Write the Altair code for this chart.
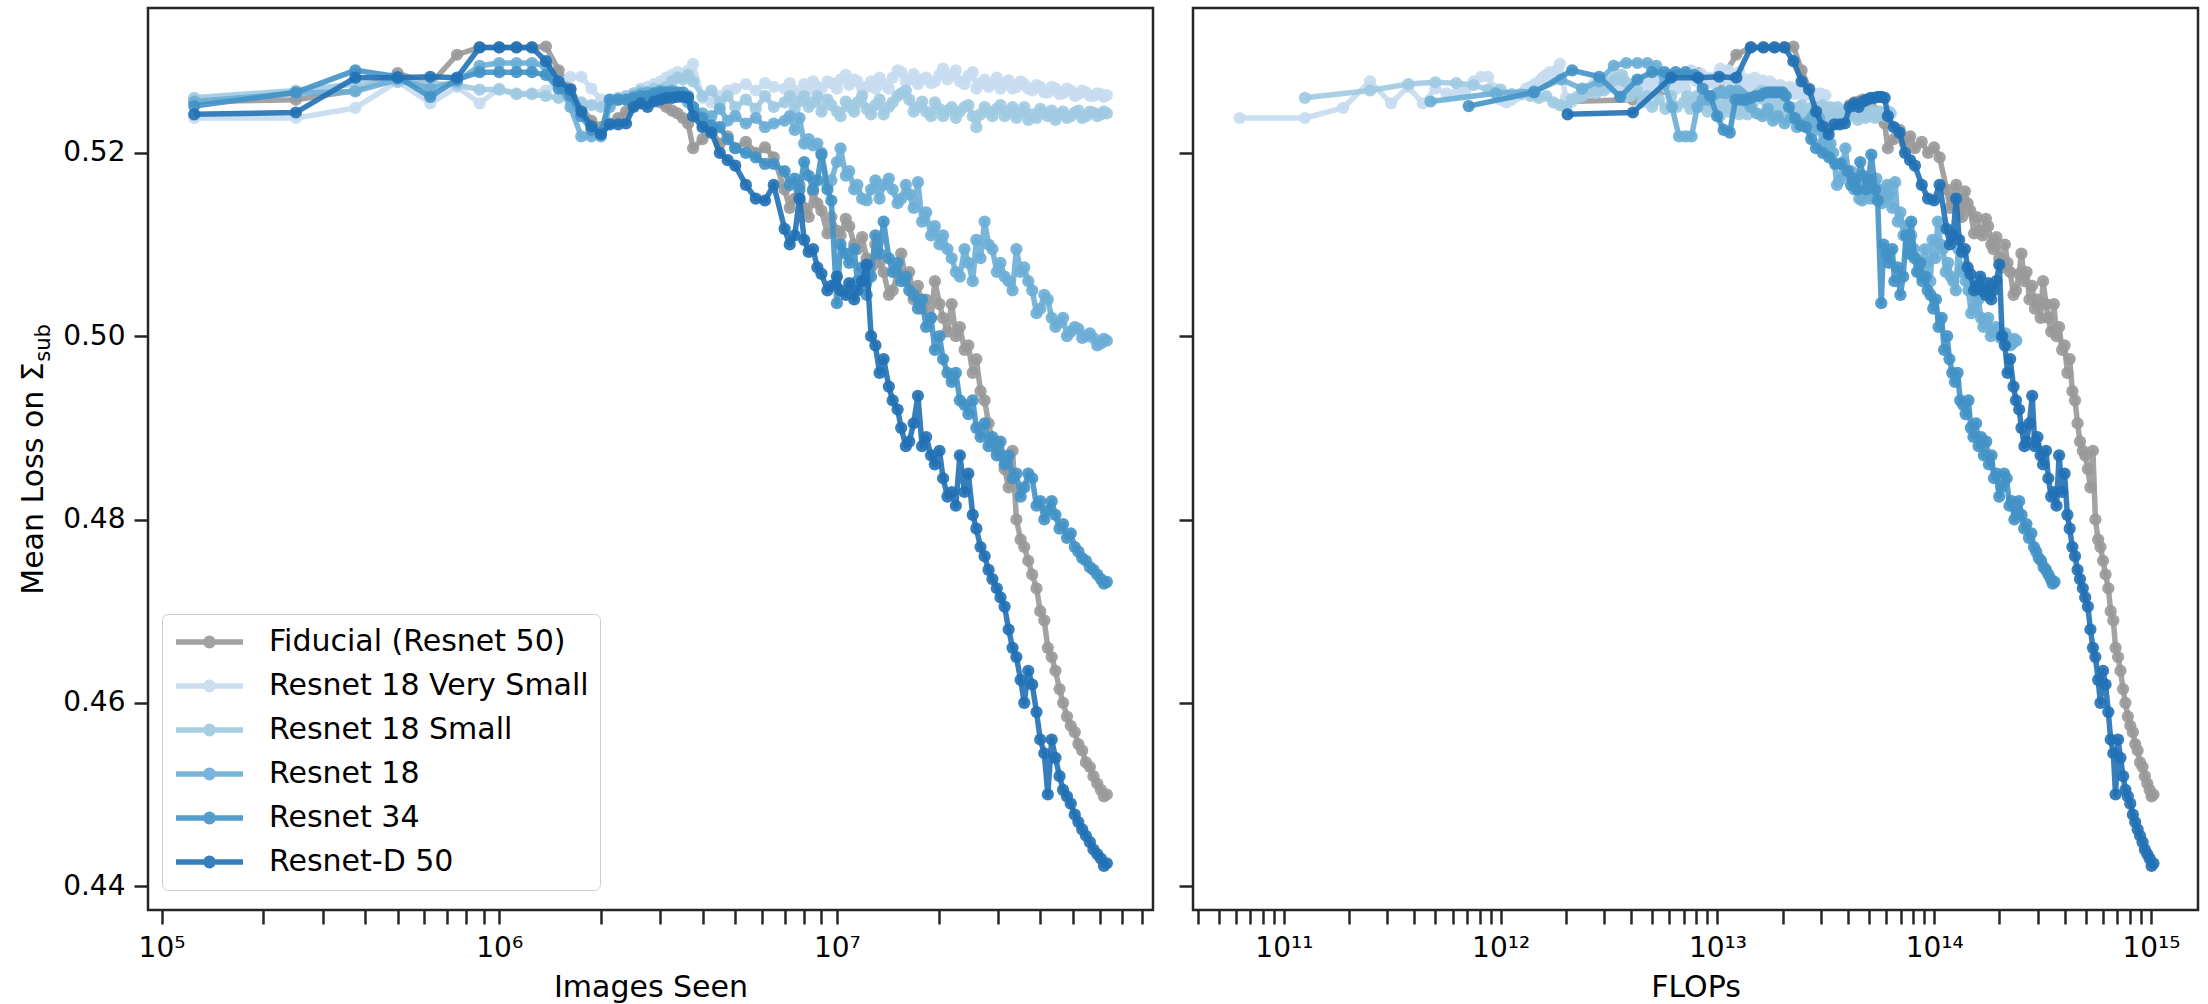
import altair as alt
import pandas as pd

# ---------------- data ----------------
series_names = ["Fiducial (Resnet 50)", "Resnet 18 Very Small", "Resnet 18 Small",
                "Resnet 18", "Resnet 34", "Resnet-D 50"]
series_colors = ["#999999", "#c6dbef", "#9ecae1", "#6baed6", "#4292c6", "#2171b5"]
# FLOPs per image seen, read from the horizontal shift between the two panels
flops_per_image = [1.63e7, 5.0e5, 1.0e6, 3.8e6, 5.7e6, 1.63e7]
images_per_eval = 125000

eval_steps = [1, 2, 3, 4, 5, 6, 7, 8, 9, 10,
              11, 12, 13, 14, 15, 16, 17, 18, 19, 20,
              21, 22, 23, 24, 25, 26, 27, 28, 29, 30,
              32, 34, 36, 38, 40, 43, 46, 49, 52,
              56, 58, 60, 62, 64, 66, 68, 70, 72,
              75, 77, 80, 82, 85, 87, 90, 92, 95, 98,
              101, 104, 107, 110, 114, 117, 121, 124, 128, 131,
              135, 139, 143, 147, 152, 156, 161, 165, 170, 175,
              180, 185, 191, 196, 202, 207, 213, 219, 225, 231,
              238, 244, 251, 258, 265, 272, 280, 287, 295, 303,
              312, 320, 329, 337, 346, 355, 365, 374, 384, 394,
              405, 415, 426, 437, 449, 460, 472, 484, 494, 504]

loss_fiducial = [.5256, .5258, .5268, .5287, .5275, .5307, .5315, .5315, .5315, .5315,
                 .5316, .5290, .5270, .5250, .5235, .5228, .5232, .5238, .5245, .5252,
                 .5255, .5256, .5258, .5255, .5250, .5246, .5243, .5238, .5232, .5205,
                 .5215, .5225, .5210, .5218, .5205, .5212, .5200, .5206, .5195,
                 .5160, .5140, .5150, .5165, .5140, .5130, .5158, .5145, .5137,
                 .5112, .5130, .5115, .5110, .5128, .5120, .5100, .5095, .5108, .5085,
                 .5075, .5100, .5080, .5070, .5045, .5050, .5068, .5090, .5060, .5070,
                 .5040, .5055, .5030, .5040, .5020, .5060, .5035, .5020, .5005, .5035,
                 .5000, .5010, .4985, .4990, .4960, .4975, .4940, .4930, .4905, .4885,
                 .4875, .4870, .4855, .4835, .4875, .4800, .4778, .4770, .4755, .4740,
                 .4725, .4700, .4690, .4660, .4650, .4635, .4615, .4600, .4585, .4575,
                 .4568, .4555, .4548, .4535, .4530, .4520, .4512, .4505, .4498, .4500]

loss_very_small = [.5238, .5238, .5249, .5278, .5254, .5272, .5254, .5270, .5265, .5265,
                   .5268, .5278, .5283, .5283, .5270, .5258, .5255, .5258, .5262, .5265,
                   .5270, .5272, .5275, .5278, .5282, .5285, .5288, .5286, .5290, .5297,
                   .5260, .5255, .5262, .5268, .5270, .5275, .5268, .5276, .5272,
                   .5270, .5276, .5268, .5262, .5275, .5270, .5278, .5272, .5270,
                   .5278, .5276, .5270, .5280, .5285, .5274, .5280, .5278, .5270, .5272,
                   .5278, .5270, .5282, .5275, .5270, .5282, .5290, .5288, .5278, .5280,
                   .5286, .5275, .5280, .5282, .5276, .5278, .5285, .5292, .5280, .5285,
                   .5290, .5278, .5275, .5284, .5288, .5270, .5276, .5280, .5272, .5276,
                   .5282, .5270, .5276, .5279, .5270, .5272, .5278, .5275, .5270, .5268,
                   .5274, .5272, .5266, .5266, .5272, .5270, .5264, .5265, .5270, .5268,
                   .5262, .5264, .5268, .5266, .5262, .5262, .5265, .5264, .5261, .5263]

loss_small = [.5260, .5268, .5275, .5277, .5276, .5274, .5269, .5269, .5264, .5264,
              .5262, .5260, .5262, .5255, .5252, .5250, .5258, .5260, .5262, .5265,
              .5268, .5265, .5270, .5268, .5272, .5278, .5282, .5280, .5285, .5278,
              .5262, .5268, .5255, .5262, .5250, .5258, .5248, .5262, .5250,
              .5255, .5262, .5248, .5256, .5262, .5250, .5255, .5262, .5245,
              .5258, .5252, .5245, .5240, .5256, .5250, .5245, .5255, .5262, .5248,
              .5242, .5252, .5258, .5242, .5250, .5255, .5262, .5265, .5268, .5258,
              .5245, .5250, .5256, .5245, .5240, .5255, .5248, .5240, .5246, .5250,
              .5238, .5245, .5250, .5252, .5240, .5228, .5242, .5250, .5245, .5240,
              .5248, .5252, .5240, .5245, .5250, .5238, .5244, .5250, .5236, .5242,
              .5238, .5248, .5244, .5240, .5246, .5236, .5242, .5245, .5238, .5240,
              .5244, .5246, .5238, .5240, .5245, .5244, .5240, .5242, .5245, .5243]

loss_resnet18 = [.5256, .5265, .5267, .5280, .5270, .5278, .5295, .5298, .5298, .5298,
                 .5295, .5275, .5250, .5218, .5218, .5218, .5250, .5258, .5258, .5262,
                 .5265, .5266, .5265, .5268, .5266, .5268, .5265, .5262, .5255, .5250,
                 .5243, .5240, .5248, .5235, .5240, .5232, .5238, .5228, .5232,
                 .5235, .5240, .5225, .5238, .5210, .5215, .5208, .5210, .5200,
                 .5165, .5170, .5190, .5205, .5175, .5180, .5160, .5165, .5150, .5148,
                 .5160, .5170, .5150, .5165, .5172, .5160, .5145, .5150, .5165, .5155,
                 .5140, .5168, .5125, .5135, .5110, .5120, .5100, .5110, .5095, .5085,
                 .5070, .5065, .5095, .5080, .5060, .5105, .5085, .5125, .5100, .5095,
                 .5070, .5080, .5065, .5060, .5050, .5095, .5070, .5075, .5060, .5050,
                 .5025, .5030, .5045, .5040, .5020, .5010, .5015, .5020, .5000, .5005,
                 .5010, .5008, .4998, .5000, .5003, .4998, .4990, .4992, .4997, .4995]

loss_resnet34 = [.5251, .5266, .5290, .5283, .5261, .5280, .5288, .5288, .5288, .5288,
                 .5285, .5270, .5262, .5240, .5225, .5222, .5258, .5258, .5258, .5260,
                 .5262, .5262, .5265, .5266, .5266, .5266, .5266, .5266, .5262, .5250,
                 .5238, .5230, .5228, .5215, .5205, .5200, .5195, .5188, .5188,
                 .5180, .5165, .5172, .5160, .5190, .5175, .5160, .5170, .5198,
                 .5160, .5148, .5036, .5100, .5090, .5080, .5095, .5060, .5075, .5045,
                 .5065, .5110, .5090, .5125, .5085, .5070, .5080, .5060, .5065, .5050,
                 .5045, .5030, .5040, .5010, .5020, .4985, .5000, .4975, .4960, .4950,
                 .4960, .4930, .4925, .4915, .4930, .4900, .4890, .4905, .4880, .4890,
                 .4870, .4885, .4860, .4870, .4845, .4850, .4825, .4835, .4850, .4845,
                 .4815, .4820, .4800, .4810, .4820, .4805, .4790, .4795, .4780, .4785,
                 .4770, .4765, .4758, .4755, .4748, .4745, .4740, .4735, .4730, .4732]

loss_resnetd50 = [.5242, .5244, .5282, .5282, .5283, .5282, .5315, .5315, .5315, .5315,
                  .5300, .5278, .5269, .5245, .5229, .5220, .5231, .5231, .5232, .5250,
                  .5254, .5250, .5256, .5258, .5260, .5260, .5261, .5261, .5260, .5240,
                  .5228, .5222, .5200, .5192, .5186, .5165, .5150, .5148, .5165,
                  .5117, .5100, .5110, .5150, .5105, .5092, .5095, .5075, .5068,
                  .5050, .5055, .5065, .5050, .5045, .5058, .5040, .5050, .5060, .5078,
                  .5000, .4990, .4960, .4975, .4945, .4930, .4920, .4900, .4880, .4885,
                  .4905, .4935, .4880, .4890, .4870, .4860, .4875, .4845, .4825, .4830,
                  .4815, .4870, .4830, .4850, .4805, .4790, .4770, .4760, .4745, .4735,
                  .4725, .4715, .4705, .4680, .4660, .4650, .4625, .4600, .4635, .4620,
                  .4590, .4560, .4545, .4500, .4560, .4540, .4520, .4505, .4498, .4490,
                  .4478, .4470, .4462, .4455, .4448, .4440, .4435, .4430, .4422, .4425]

loss_by_series = [loss_fiducial, loss_very_small, loss_small,
                  loss_resnet18, loss_resnet34, loss_resnetd50]
for _l in loss_by_series:
    assert len(_l) == len(eval_steps), (len(_l), len(eval_steps))

y_ticks = [0.44, 0.46, 0.48, 0.50, 0.52]
y_domain = [0.4374, 0.5358]
x_domain_images = [9.12e4, 8.63e7]
x_domain_flops = [3.81e10, 1.648e15]

# ---------------- table ----------------
rows = []
for name, fpi, losses in zip(series_names, flops_per_image, loss_by_series):
    for step, loss in zip(eval_steps, losses):
        images = step * images_per_eval
        rows.append({"series": name, "step": step, "images": images,
                     "flops": images * fpi, "loss": loss})
df = pd.DataFrame(rows)

SUP = str.maketrans("0123456789", "⁰¹²³⁴⁵⁶⁷⁸⁹")


def log_ticks(lo, hi):
    vals = []
    for e in range(0, 17):
        for m in range(1, 10):
            v = m * 10 ** e
            if lo <= v <= hi:
                vals.append(v)
    return vals


def pow_label_expr(lo, hi):
    expr = ""
    for p in range(0, 17):
        v = 10 ** p
        if lo <= v <= hi:
            expr += f"abs(datum.value - {v}) < {v} * 1e-6 ? '10{str(p).translate(SUP)}' : "
    return expr + "''"


FONT = "DejaVu Sans"
INK = "#262626"
W, H = 1005, 902
LINE_W = 5.5
DOT = 150

color_scale = alt.Scale(domain=series_names, range=series_colors)

legend = alt.Legend(
    title=None, orient="none", legendX=14, legendY=606,
    symbolType="M-1,0L1,0M0.11,0A0.11,0.11,0,1,1,-0.11,0A0.11,0.11,0,1,1,0.11,0",
    symbolSize=4489, symbolStrokeWidth=LINE_W, symbolOpacity=0.9,
    labelFont=FONT, labelFontSize=30, labelColor="black", labelOffset=23, labelLimit=500,
    rowPadding=10, clipHeight=34, padding=11,
    strokeColor="#cccccc", fillColor="rgba(255,255,255,0.8)", cornerRadius=6,
)


def make_panel(xfield, xdomain, xtitle, left):
    xaxis = alt.Axis(
        values=log_ticks(*xdomain), labelExpr=pow_label_expr(*xdomain),
        title=xtitle, tickSize=14, tickWidth=2.5, tickColor=INK,
        labelFont=FONT, labelFontSize=28, labelColor="black", labelPadding=10,
        labelOverlap=False, labelFlush=False, domain=False, grid=False,
        titleFont=FONT, titleFontSize=30, titleFontWeight="normal", titleColor="black",
        titleY=86, titleBaseline="alphabetic",
    )
    if left:
        yaxis = alt.Axis(
            values=y_ticks, format=".2f", title="Mean Loss on Σ",
            tickSize=14, tickWidth=2.5, tickColor=INK,
            labelFont=FONT, labelFontSize=28, labelColor="black", labelPadding=9,
            domain=False, grid=False,
            titleFont=FONT, titleFontSize=30, titleFontWeight="normal", titleColor="black",
            titleX=-106, titleY=470, titleAngle=270, titleAlign="center",
            titleBaseline="alphabetic",
        )
    else:
        yaxis = alt.Axis(values=y_ticks, labels=False, title=None, tickSize=14,
                         tickWidth=2.5, tickColor=INK, domain=False, grid=False)

    x = alt.X(f"{xfield}:Q", scale=alt.Scale(type="log", domain=xdomain, nice=False), axis=xaxis)
    y = alt.Y("loss:Q", scale=alt.Scale(domain=y_domain, nice=False, zero=False), axis=yaxis)

    layers = []
    for k, name in enumerate(series_names):
        base = alt.Chart(df).transform_filter(alt.datum.series == name)
        leg = legend if (left and k == 0) else None
        line = base.mark_line(strokeWidth=LINE_W, opacity=0.9, strokeJoin="round").encode(
            x=x, y=y, order="step:Q",
            color=alt.Color("series:N", scale=color_scale, legend=leg))
        pts = base.mark_circle(size=DOT, opacity=0.9).encode(
            x=x, y=y,
            color=alt.Color("series:N", scale=color_scale, legend=None))
        layers += [line, pts]

    if left:
        sub = alt.Chart(pd.DataFrame({"t": ["sub"]})).mark_text(
            angle=270, align="center", baseline="alphabetic", fontSize=21,
            font=FONT, color="black").encode(
            x=alt.value(-98.5), y=alt.value(335), text="t:N")
        layers.append(sub)

    return alt.layer(*layers).properties(width=W, height=H)


left_panel = make_panel("images", x_domain_images, "Images Seen", True)
right_panel = make_panel("flops", x_domain_flops, "FLOPs", False)

chart = alt.hconcat(left_panel, right_panel, spacing=40, bounds="flush").resolve_scale(
    color="independent"
).configure_view(
    stroke=INK, strokeWidth=2.5
).properties(
    padding={"left": 16, "top": 6, "right": 5, "bottom": 5},
    background="white",
)

chart.save("out.html", embed_options={"renderer": "svg", "actions": False})
